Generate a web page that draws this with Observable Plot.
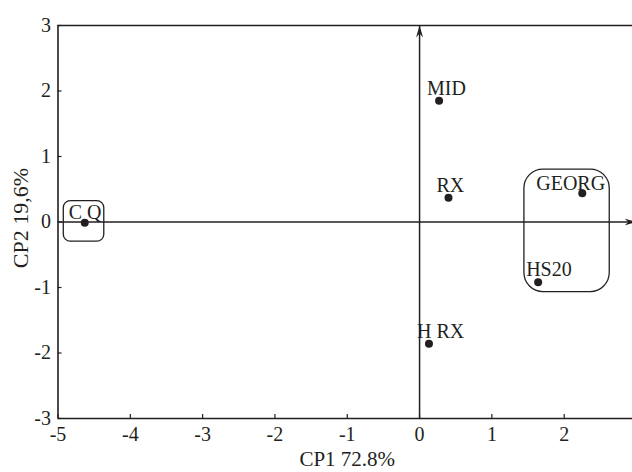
<!DOCTYPE html>
<html>
<head>
<meta charset="utf-8">
<script src="https://cdn.jsdelivr.net/npm/d3@7"></script>
<script src="https://cdn.jsdelivr.net/npm/@observablehq/plot@0.6"></script>
<style>
  html, body { margin: 0; padding: 0; background: #fff; }
  #chart svg { display: block; }
</style>
</head>
<body>
<div id="chart"></div>
<script>
// Data
const names = ["C Q", "MID", "RX", "GEORG", "HS20", "H RX"];
const cp1 = [-4.63, 0.27, 0.40, 2.25, 1.64, 0.13];
const cp2 = [-0.01, 1.85, 0.37, 0.44, -0.92, -1.86];

const groupNames = ["CQ group", "GEORG-HS20 group"];
const groupX1 = [-4.92, 1.45];
const groupX2 = [-4.36, 2.63];
const groupY1 = [-0.30, -1.07];
const groupY2 = [0.32, 0.80];

const xTicks = [-5, -4, -3, -2, -1, 0, 1, 2, 3];
const yTicks = [-3, -2, -1, 0, 1, 2, 3];
const xDomain = [-5, 3];
const yDomain = [-3, 3];
const xTitle = "CP1 72.8%";
const yTitle = "CP2 19,6%";

const points = names.map((n, i) => ({name: n, x: cp1[i], y: cp2[i]}));
const groups = groupNames.map((n, i) => ({name: n, x1: groupX1[i], x2: groupX2[i], y1: groupY1[i], y2: groupY2[i]}));
const axesLines = [
  {x1: 0, y1: yDomain[0], x2: 0, y2: yDomain[1]},
  {x1: xDomain[0], y1: 0, x2: xDomain[1], y2: 0}
];

const ink = "#231f20";
const serif = "'Liberation Serif', 'Times New Roman', serif";

function stealth(color) {
  const m = d3.create("svg:marker")
    .attr("viewBox", "-12 -5 13 10")
    .attr("markerWidth", 13)
    .attr("markerHeight", 10)
    .attr("markerUnits", "userSpaceOnUse")
    .attr("orient", "auto");
  m.append("path").attr("fill", color).attr("stroke", "none").attr("d", "M0,0L-12,-3.5L-8,0L-12,3.5Z");
  return m.node();
}

const chart = Plot.plot({
  width: 632,
  height: 472,
  marginLeft: 57.5,
  marginRight: -4,
  marginTop: 25,
  marginBottom: 54,
  style: {fontFamily: serif, background: "#fff", color: ink},
  x: {domain: xDomain, axis: null},
  y: {domain: yDomain, axis: null},
  marks: [
    Plot.axisX({ticks: xTicks, tickFormat: d => String(d), tickSize: -4, tickPadding: 12, fontSize: 20, stroke: ink, fill: ink, strokeWidth: 1.2, label: null}),
    Plot.axisY({ticks: yTicks, tickFormat: d => String(d), tickSize: -4, tickPadding: 11, fontSize: 20, stroke: ink, fill: ink, strokeWidth: 1.2, label: null}),
    Plot.ruleX([xDomain[0]], {stroke: ink, strokeWidth: 1.6}),
    Plot.ruleY([yDomain[0]], {stroke: ink, strokeWidth: 1.6}),
    Plot.ruleY([yDomain[1]], {stroke: ink, strokeWidth: 1.6}),
    Plot.link(axesLines, {x1: "x1", y1: "y1", x2: "x2", y2: "y2", stroke: ink, strokeWidth: 1.5, markerEnd: stealth}),
    Plot.rect(groups.filter(d => d.name === "CQ group"), {x1: "x1", x2: "x2", y1: "y1", y2: "y2", fill: "none", stroke: ink, strokeWidth: 1.3, rx: 7}),
    Plot.rect(groups.filter(d => d.name !== "CQ group"), {x1: "x1", x2: "x2", y1: "y1", y2: "y2", fill: "none", stroke: ink, strokeWidth: 1.3, rx: 19}),
    Plot.dot(points, {x: "x", y: "y", r: 4, fill: ink, stroke: "none"}),
    Plot.text(points.filter(d => d.name !== "GEORG" && d.name !== "C Q"), {x: "x", y: "y", text: "name", textAnchor: "start", lineAnchor: "bottom", dx: -12, dy: -6, fontSize: 20, fill: ink}),
    Plot.text(points.filter(d => d.name === "GEORG"), {x: "x", y: "y", text: "name", textAnchor: "start", lineAnchor: "bottom", dx: -46, dy: -3, fontSize: 20, fill: ink}),
    Plot.text(points.filter(d => d.name === "C Q"), {x: "x", y: "y", text: "name", textAnchor: "start", lineAnchor: "bottom", dx: -16, dy: -4, fontSize: 20, fill: ink}),
    Plot.text([xTitle], {frameAnchor: "bottom", text: d => d, textAnchor: "middle", dy: 41, lineAnchor: "middle", fontSize: 21, fill: ink}),
    Plot.text([yTitle], {frameAnchor: "left", text: d => d, textAnchor: "middle", rotate: -90, dx: -37, dy: -4, lineAnchor: "middle", fontSize: 22, fill: ink})
  ]
});
document.getElementById("chart").appendChild(chart);
</script>
</body>
</html>
